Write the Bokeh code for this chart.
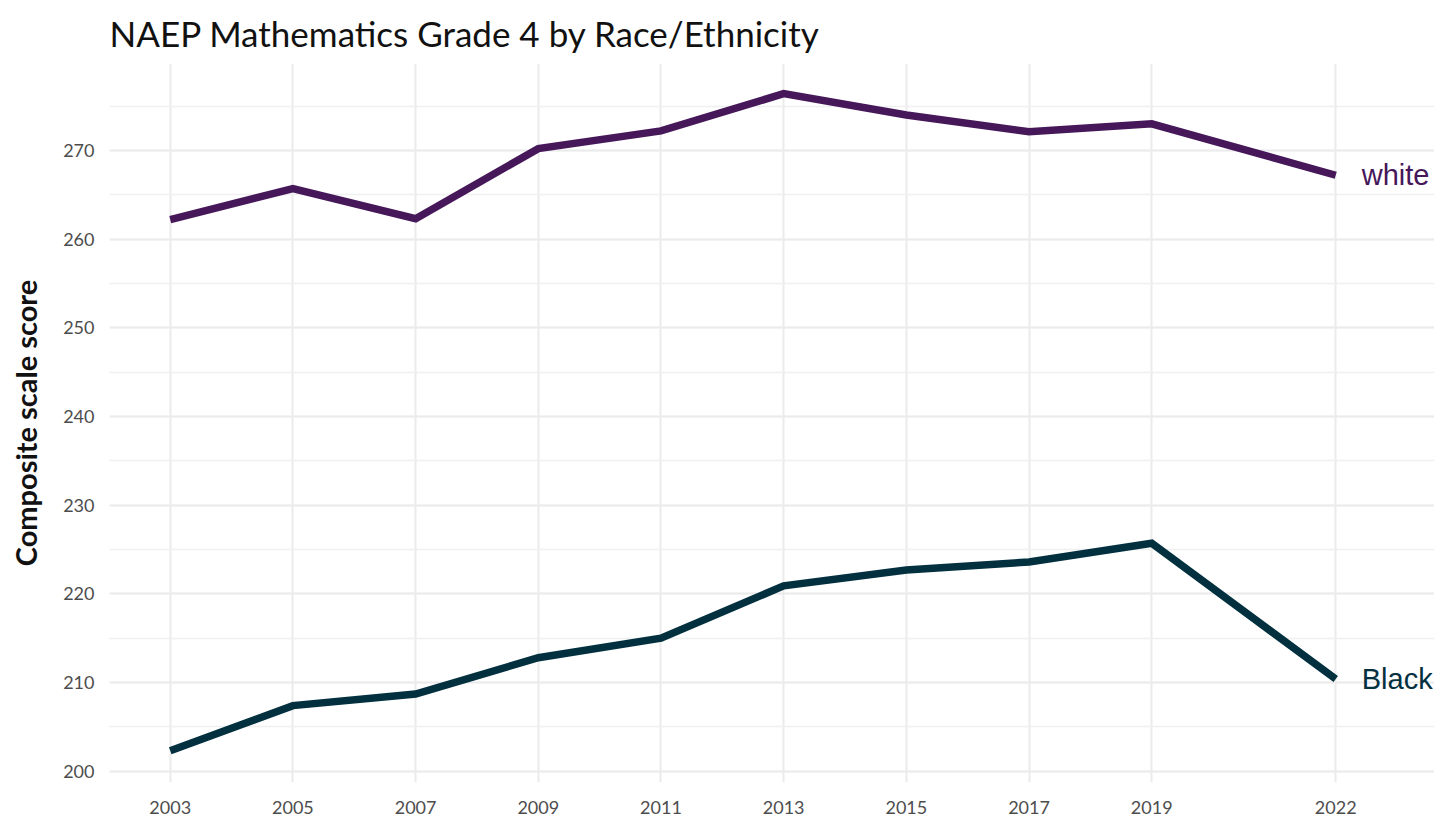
from bokeh.plotting import figure
from bokeh.models import FixedTicker, SingleIntervalTicker, Range1d
from bokeh.core.properties import value
from bokeh.embed import file_html
from bokeh.resources import INLINE

years = [2003, 2005, 2007, 2009, 2011, 2013, 2015, 2017, 2019, 2022]
white = [262.2, 265.7, 262.3, 270.2, 272.2, 276.4, 274.0, 272.1, 273.0, 267.2]
black = [202.3, 207.4, 208.7, 212.8, 215.0, 220.9, 222.7, 223.6, 225.7, 210.4]
series_names = ["white", "Black"]
series_colors = ["#46185A", "#03303F"]
title_text = "NAEP Mathematics Grade 4 by Race/Ethnicity"
y_label = "Composite scale score"

p = figure(width=1434, height=818, output_backend="svg", toolbar_location=None,
           x_range=Range1d(2002.01, 2023.61), y_range=Range1d(198.73, 279.8),
           title=title_text)
p.min_border_left = 109
p.min_border_right = 0
p.min_border_bottom = 36
p.min_border_top = 59
p.outline_line_color = None
p.background_fill_color = "white"
p.border_fill_color = "white"

p.title.text_font = "Lato"
p.title.text_font_size = "35px"
p.title.text_font_style = "normal"
p.title.text_color = "#111111"
p.title.align = "left"
p.title.standoff = 19

p.xaxis.ticker = FixedTicker(ticks=years, minor_ticks=[])
p.yaxis.ticker = SingleIntervalTicker(interval=10, num_minor_ticks=2)
for ax in (p.xaxis[0], p.yaxis[0]):
    ax.axis_line_color = None
    ax.major_tick_line_color = None
    ax.minor_tick_line_color = None
    ax.major_tick_out = 0
    ax.major_tick_in = 0
    ax.minor_tick_out = 0
    ax.major_label_text_font = "Lato"
    ax.major_label_text_font_size = "18px"
    ax.major_label_text_color = "#4d4d4d"
    ax.major_label_standoff = 15
p.xaxis.major_label_standoff = 18

p.yaxis.axis_label = y_label
p.yaxis.axis_label_text_font = "Lato"
p.yaxis.axis_label_text_font_size = "29px"
p.yaxis.axis_label_text_font_style = "bold"
p.yaxis.axis_label_text_color = "#111111"
p.yaxis.axis_label_standoff = 17

p.xgrid.grid_line_color = "#ebebeb"
p.xgrid.grid_line_width = 2
p.ygrid.grid_line_color = "#ebebeb"
p.ygrid.grid_line_width = 2
p.ygrid.minor_grid_line_color = "#f0f0f0"
p.ygrid.minor_grid_line_width = 1.5

for vals, name, col in zip([white, black], series_names, series_colors):
    p.line(years, vals, line_color=col, line_width=7.5, line_cap="butt", line_join="miter")
    p.text(x=[years[-1]], y=[vals[-1]], text=[name], x_offset=26,
           text_baseline="middle", text_align="left",
           text_font=value("Liberation Sans"), text_font_size="29px",
           text_color=col)

open("out.html", "w").write(file_html(p, INLINE))
